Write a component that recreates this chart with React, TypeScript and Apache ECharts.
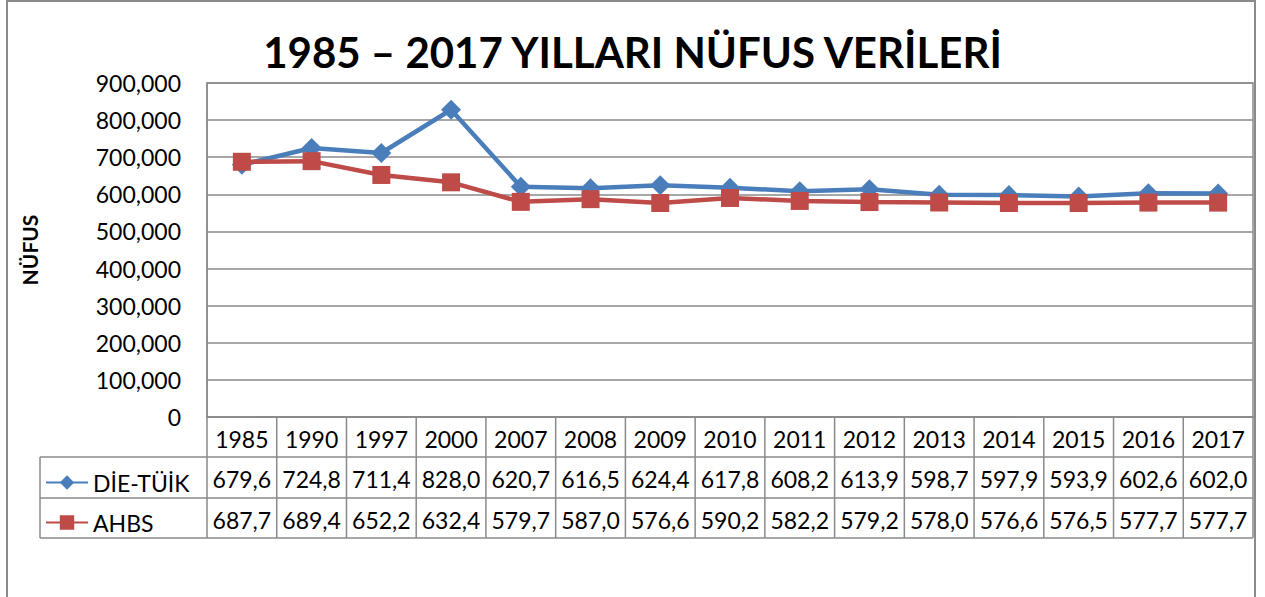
import React, { useEffect, useRef } from "react";
import * as echarts from "echarts";

const years = ["1985", "1990", "1997", "2000", "2007", "2008", "2009", "2010", "2011", "2012", "2013", "2014", "2015", "2016", "2017"];
const dieTuik = [679600, 724800, 711400, 828000, 620700, 616500, 624400, 617800, 608200, 613900, 598700, 597900, 593900, 602600, 602000];
const ahbs = [687700, 689400, 652200, 632400, 579700, 587000, 576600, 590200, 582200, 579200, 578000, 576600, 576500, 577700, 577700];
const seriesNames = ["DİE-TÜİK", "AHBS"];
const titleText = "1985 – 2017 YILLARI NÜFUS VERİLERİ";
const yName = "NÜFUS";

const fmtTable = (v: number) => (v / 1000).toFixed(1).replace(".", ",");

export default function App() {
  const ref = useRef<HTMLDivElement>(null);
  useEffect(() => {
    document.body.style.margin = "0";
    const chart = echarts.init(ref.current!, null, { renderer: "svg" });
    const font = "Lato";
    const gray = "#8a8a8a";
    const left = 207, right = 12, top = 83, bottomY = 417;
    const tableLeft = 40, tableRight = 1265 - right;
    const rowLines = [457, 498, 538];
    const blue = "#4A7EBB";
    const red = "#BE4B48";
    const lineSt = { stroke: gray, lineWidth: 1.5 };
    const graphics: any[] = [
      { type: "rect", z: 100, shape: { x: 7, y: 1, width: 1248, height: 700 }, style: { fill: "none", stroke: gray, lineWidth: 2 }, silent: true },
      ...rowLines.map((y) => ({ type: "line", z: 100, shape: { x1: tableLeft, y1: y, x2: tableRight, y2: y }, style: lineSt })),
      { type: "line", z: 100, shape: { x1: tableLeft, y1: rowLines[0], x2: tableLeft, y2: rowLines[2] }, style: lineSt },
    ];
    const legendBase = {
      orient: "vertical",
      left: 40,
      itemWidth: 42,
      itemHeight: 18,
      textStyle: { fontFamily: font, fontSize: 23, color: "#000" },
    };
    const labelStyle = { interval: 0, margin: 10, fontSize: 23, color: "#000", fontFamily: font };
    chart.setOption({
      animation: false,
      backgroundColor: "#fff",
      textStyle: { fontFamily: font },
      title: {
        text: titleText,
        left: "center",
        top: 26,
        textStyle: { fontFamily: font, fontSize: 42, fontWeight: "bold", color: "#000" },
      },
      legend: [
        { ...legendBase, top: 466, data: [seriesNames[0]] },
        { ...legendBase, top: 506, data: [seriesNames[1]] },
      ],
      grid: {
        left, right, top, bottom: 597 - bottomY,
        show: true, borderColor: gray, borderWidth: 1.5, containLabel: false,
      },
      xAxis: [
        {
          type: "category", data: years, boundaryGap: true,
          axisLine: { show: true, onZero: false, lineStyle: { color: gray, width: 1.5 } },
          axisTick: { show: false },
          axisLabel: labelStyle,
        },
        {
          type: "category", data: dieTuik.map(fmtTable), position: "bottom", offset: 40, boundaryGap: true,
          axisLine: { show: false }, axisTick: { show: false },
          axisLabel: labelStyle,
        },
        {
          type: "category", data: ahbs.map(fmtTable), position: "bottom", offset: 81, boundaryGap: true,
          axisLine: { show: false }, axisTick: { show: false },
          axisLabel: labelStyle,
        },
      ],
      yAxis: {
        type: "value", min: 0, max: 900000, interval: 100000,
        name: yName, nameLocation: "middle", nameRotate: 90, nameGap: 167,
        nameTextStyle: { fontFamily: font, fontSize: 21, fontWeight: "bold", color: "#000" },
        axisLine: { show: true, lineStyle: { color: gray, width: 1.5 } },
        axisTick: { show: false },
        axisLabel: { margin: 26, fontSize: 23, color: "#000", fontFamily: font, formatter: (v: number) => v.toLocaleString("en-US") },
        splitLine: { lineStyle: { color: gray, width: 1.5 } },
      },
      series: [
        {
          name: seriesNames[0], type: "line", data: dieTuik, xAxisIndex: 0,
          symbol: "diamond", symbolSize: 20,
          lineStyle: { color: blue, width: 4.5 }, itemStyle: { color: blue },
        },
        {
          name: seriesNames[1], type: "line", data: ahbs, xAxisIndex: 0,
          symbol: "rect", symbolSize: 18,
          lineStyle: { color: red, width: 4.5 }, itemStyle: { color: red },
        },
      ],
      graphic: graphics,
    });
    // column separators of the data table, from the category axis scale
    const centers = years.map((_, i) => chart.convertToPixel({ xAxisIndex: 0 }, i) as number);
    const half = centers.length > 1 ? (centers[1] - centers[0]) / 2 : 0;
    const bounds = [centers[0] - half, ...centers.map((c) => c + half)];
    const colLines = bounds.map((x) => ({ type: "line", z: 100, shape: { x1: x, y1: bottomY, x2: x, y2: rowLines[2] }, style: lineSt }));
    chart.setOption({ graphic: [...graphics, ...colLines] });
    return () => chart.dispose();
  }, []);
  return <div ref={ref} style={{ width: 1265, height: 597 }} />;
}
